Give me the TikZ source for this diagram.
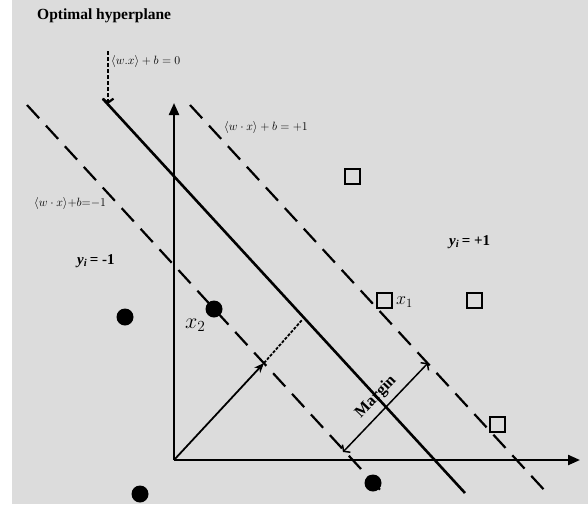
\documentclass[tikz,border=0pt]{standalone}
\usepackage{fix-cm}
\usepackage{fontspec}
\setmainfont{Liberation Serif}
\usetikzlibrary{arrows.meta,positioning}
\definecolor{panel}{HTML}{DCDCDC}

\begin{document}
\begin{tikzpicture}[x=1pt, y=-1pt,
  plane/.style={line width=2.6pt},
  bound/.style={line width=2.2pt, dash pattern=on 18pt off 10pt},
  axis/.style={line width=2.2pt, -{Triangle[length=12pt,width=10pt]}},
  possample/.style={draw, rectangle, line width=2pt, minimum size=15pt, inner sep=0pt},
  negsample/.style={fill, circle, minimum size=17pt, inner sep=0pt},
  eq/.style={font=\fontsize{12}{14}\selectfont, inner sep=0pt, anchor=west},
  cls/.style={font=\fontsize{15}{17}\selectfont\bfseries, inner sep=0pt, anchor=west}
]
  \useasboundingbox (0,0) rectangle (588,504);
  \fill[panel] (12,0) rectangle (588,504);

  \node[font=\fontsize{15.5}{18}\selectfont\bfseries, anchor=west, inner sep=0pt] (title) at (37,16) {Optimal hyperplane};

  % axes
  \coordinate (o) at (174,460);
  \coordinate (ytop) at (174,103);
  \coordinate (xend) at (580,460);
  \draw[axis] (o) -- (ytop);
  \draw[axis] (o) -- (xend);

  % hyperplane and margins
  \coordinate (h0a) at (103,99);
  \coordinate (h0b) at (465,493);
  \coordinate (hna) at (27,105);
  \coordinate (hnb) at (383,493);
  \coordinate (hpa) at (190,105);
  \coordinate (hpb) at (547,493);
  \draw[plane] (h0a) -- (h0b);
  \draw[bound] (hna) -- (hnb);
  \draw[bound] (hpa) -- (hpb);

  % data points
  \node[negsample] (n1) at (125,317) {};
  \node[negsample] (n2) at (214,309) {};
  \node[negsample] (n3) at (373,483) {};
  \node[negsample] (n4) at (140,494) {};
  \node[possample] (p1) at (352,176) {};
  \node[possample] (p2) at (384,300) {};
  \node[possample] (p3) at (474,300) {};
  \node[possample] (p4) at (497,424) {};

  % weight vector
  \coordinate (wtip) at (264,363);
  \coordinate (wend) at (302,320);
  \draw[line width=1.8pt, -{Stealth[length=10pt,width=8pt]}] (o) -- (wtip);
  \draw[line width=1.8pt, dash pattern=on 3pt off 1.5pt] (wtip) -- (wend);

  % margin
  \coordinate (ma) at (343,452);
  \coordinate (mb) at (428,363);
  \draw[line width=1.5pt, {Straight Barb[length=4pt,width=11pt]}-{Straight Barb[length=4pt,width=11pt]}] (ma) -- (mb);
  \node[font=\fontsize{16}{18}\selectfont\bfseries, rotate=46, inner sep=0pt] (marg) at (376,397) {Margin};

  % labels
  \coordinate (eqtop) at (108,51);
  \coordinate (eqtip) at (108,104);
  \draw[line width=2.2pt, dash pattern=on 4pt off 2pt, -{Straight Barb[length=4pt,width=11pt]}] (eqtop) -- (eqtip);
  \node[eq] (e0) at (111,61) {$\langle w.x\rangle + b = 0$};
  \node[eq] (e1) at (224,127) {$\langle w\cdot x\rangle + b = +1$};
  \node[eq] (e2) at (34,203) {$\langle w\cdot x\rangle {+} b {=} {-}1$};
  \node[cls] (yn) at (77,261) {\textit{y}\textsubscript{\textit{i}}\,= -1};
  \node[cls] (yp) at (449,242) {\textit{y}\textsubscript{\textit{i}}\,= +1};
  \node[font=\fontsize{18}{20}\selectfont, anchor=west, inner sep=0pt] (x1) at (396,302) {$x_1$};
  \node[font=\fontsize{22}{24}\selectfont, anchor=west, inner sep=0pt] (x2) at (185,325) {$x_2$};
\end{tikzpicture}
\end{document}
